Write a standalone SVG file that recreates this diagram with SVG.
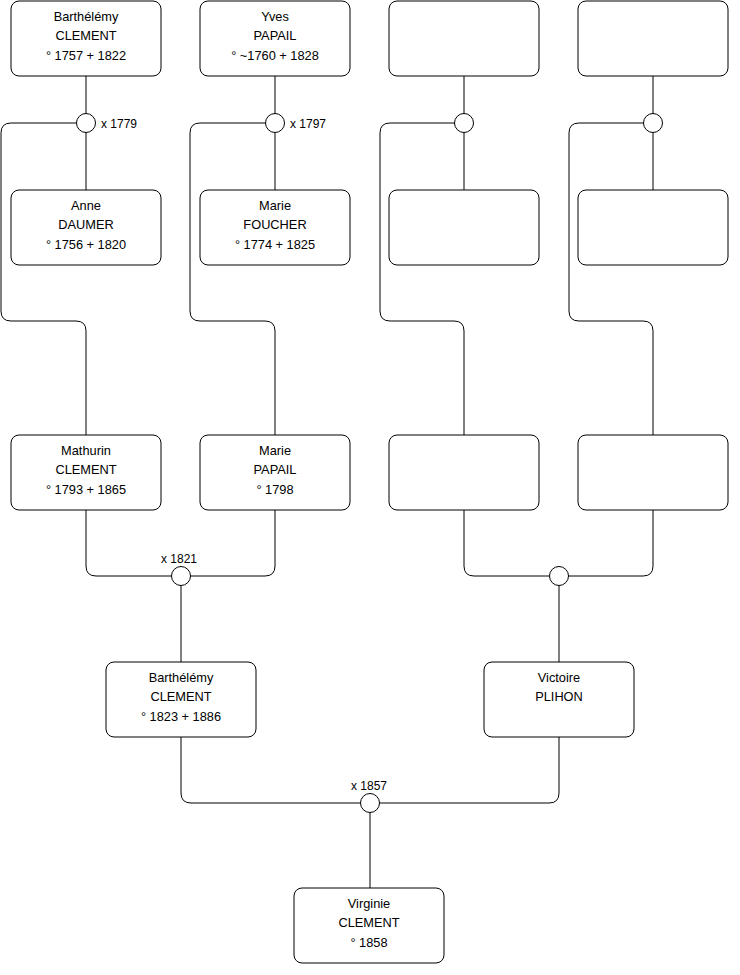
<svg xmlns="http://www.w3.org/2000/svg" width="740" height="975" viewBox="0 0 740 975">
<style>
.box{fill:#fff;stroke:#000;stroke-width:1}
.dot{fill:#fff;stroke:#000;stroke-width:1}
.ln{fill:none;stroke:#000;stroke-width:1}
text{font-family:"Liberation Sans",Arial,sans-serif;font-size:12px;fill:#000}
.box ~ text{font-size:12.8px}
.c{text-anchor:middle}
</style>
<rect width="740" height="975" fill="#fff"/>
<g id="connectors">
<path class="ln" d="M86,76V190"/>
<path class="ln" d="M275,76V190"/>
<path class="ln" d="M464,76V190"/>
<path class="ln" d="M653,76V190"/>
<path class="ln" d="M86,123H11Q1,123 1,133V311Q1,321 11,321H76Q86,321 86,331V435"/>
<path class="ln" d="M275,123H200Q190,123 190,133V311Q190,321 200,321H265Q275,321 275,331V435"/>
<path class="ln" d="M464,123H390Q380,123 380,133V311Q380,321 390,321H454Q464,321 464,331V435"/>
<path class="ln" d="M653,123H579Q569,123 569,133V311Q569,321 579,321H643Q653,321 653,331V435"/>
<path class="ln" d="M86,510V566Q86,576 96,576H265Q275,576 275,566V510"/>
<path class="ln" d="M181,576V662"/>
<path class="ln" d="M464,510V566Q464,576 474,576H643Q653,576 653,566V510"/>
<path class="ln" d="M559,576V662"/>
<path class="ln" d="M181,737V793Q181,803 191,803H549Q559,803 559,793V737"/>
<path class="ln" d="M370,803V888"/>
</g>
<g id="n1"><rect class="box" x="11" y="1" width="150" height="75" rx="8"/><text class="c" x="86" y="21">Barthélémy</text><text class="c" x="86" y="40">CLEMENT</text><text class="c" x="86" y="60">° 1757 + 1822</text></g>
<g id="n2"><rect class="box" x="200" y="1" width="150" height="75" rx="8"/><text class="c" x="275" y="21">Yves</text><text class="c" x="275" y="40">PAPAIL</text><text class="c" x="275" y="60">° ~1760 + 1828</text></g>
<g id="n3"><rect class="box" x="389" y="1" width="150" height="75" rx="8"/></g>
<g id="n4"><rect class="box" x="578" y="1" width="150" height="75" rx="8"/></g>
<g id="m1"><circle class="dot" cx="86" cy="123" r="9.5"/><text x="101" y="127.5">x 1779</text></g>
<g id="m2"><circle class="dot" cx="275" cy="123" r="9.5"/><text x="290" y="127.5">x 1797</text></g>
<g id="m3"><circle class="dot" cx="464" cy="123" r="9.5"/></g>
<g id="m4"><circle class="dot" cx="653" cy="123" r="9.5"/></g>
<g id="n5"><rect class="box" x="11" y="190" width="150" height="75" rx="8"/><text class="c" x="86" y="210">Anne</text><text class="c" x="86" y="229">DAUMER</text><text class="c" x="86" y="249">° 1756 + 1820</text></g>
<g id="n6"><rect class="box" x="200" y="190" width="150" height="75" rx="8"/><text class="c" x="275" y="210">Marie</text><text class="c" x="275" y="229">FOUCHER</text><text class="c" x="275" y="249">° 1774 + 1825</text></g>
<g id="n7"><rect class="box" x="389" y="190" width="150" height="75" rx="8"/></g>
<g id="n8"><rect class="box" x="578" y="190" width="150" height="75" rx="8"/></g>
<g id="n9"><rect class="box" x="11" y="435" width="150" height="75" rx="8"/><text class="c" x="86" y="455">Mathurin</text><text class="c" x="86" y="474">CLEMENT</text><text class="c" x="86" y="494">° 1793 + 1865</text></g>
<g id="n10"><rect class="box" x="200" y="435" width="150" height="75" rx="8"/><text class="c" x="275" y="455">Marie</text><text class="c" x="275" y="474">PAPAIL</text><text class="c" x="275" y="494">° 1798</text></g>
<g id="n11"><rect class="box" x="389" y="435" width="150" height="75" rx="8"/></g>
<g id="n12"><rect class="box" x="578" y="435" width="150" height="75" rx="8"/></g>
<g id="m5"><circle class="dot" cx="181" cy="576" r="9.5"/><text class="c" x="179" y="562.5">x 1821</text></g>
<g id="m6"><circle class="dot" cx="559" cy="576" r="9.5"/></g>
<g id="n13"><rect class="box" x="106" y="662" width="150" height="75" rx="8"/><text class="c" x="181" y="682">Barthélémy</text><text class="c" x="181" y="701">CLEMENT</text><text class="c" x="181" y="721">° 1823 + 1886</text></g>
<g id="n14"><rect class="box" x="484" y="662" width="150" height="75" rx="8"/><text class="c" x="559" y="682">Victoire</text><text class="c" x="559" y="701">PLIHON</text></g>
<g id="m7"><circle class="dot" cx="370" cy="803" r="9.5"/><text class="c" x="369" y="789.5">x 1857</text></g>
<g id="n15"><rect class="box" x="294" y="888" width="150" height="75" rx="8"/><text class="c" x="369" y="908">Virginie</text><text class="c" x="369" y="927">CLEMENT</text><text class="c" x="369" y="947">° 1858</text></g>
</svg>
